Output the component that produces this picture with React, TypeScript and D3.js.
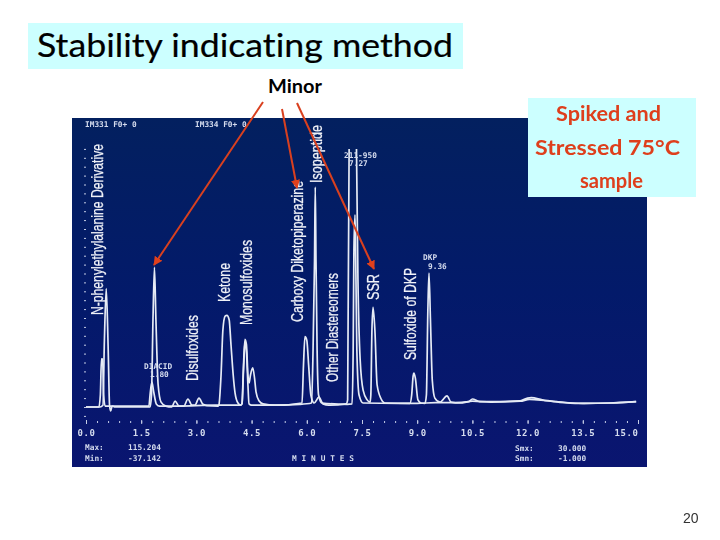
import { useEffect, useRef } from 'react';
import * as d3 from 'd3';

// [minutes, signal], null = pen goes off scale
const traceA: [number, number | null][] = [
  [0, 0], [0.38, 0], [0.46, 0.2], [0.5, 7.5], [0.55, 13.3], [0.6, 7], [0.64, 0.2], [0.67, -0.45], [0.71, 0.1], [0.79, 0],
  [1.74, 0], [1.78, 1.35], [1.82, 9.8], [1.86, 15.7], [1.9, 9.8], [1.96, 2.5], [2.04, 0.55], [2.17, 0.1], [2.33, 0],
  [2.42, 0.67], [2.53, 0.1], [2.66, 0.1], [2.77, 0.9], [2.88, 0.2], [2.96, 0.2], [3.07, 1], [3.18, 0.3], [3.29, 0.15],
  [3.59, 0.1], [3.61, 0.2], [3.67, 3.6], [3.72, 8.65], [3.78, 10.2], [3.83, 10.3], [3.89, 9.8], [3.94, 7], [4.0, 3.6],
  [4.05, 1.6], [4.13, 0.45], [4.21, 0.2], [4.24, 0.45], [4.28, 4.7], [4.32, 7.6], [4.36, 7], [4.4, 3.6], [4.43, 2.7],
  [4.47, 3.6], [4.53, 4.4], [4.58, 3.25], [4.62, 1.7], [4.7, 0.7], [4.81, 0.35], [5.14, 0.2], [5.87, 0.45], [5.91, 4.7],
  [5.95, 7.9], [6.0, 7.5], [6.05, 4.7], [6.11, 1.35], [6.2, 0.45], [6.33, 1.1], [6.44, 0.35], [6.6, 0.2], [7.07, 0.35],
  [7.11, 0.8], [7.15, 29], [7.25, null], [7.35, 29], [7.39, 14.3], [7.45, 5.3], [7.53, 1.9], [7.64, 0.8], [7.72, 0.55],
  [7.74, 1.35], [7.77, 8.65], [7.8, 11.2], [7.85, 8.65], [7.91, 2.5], [8.02, 0.9], [8.12, 0.45], [8.8, 0.4], [8.85, 1.35],
  [8.89, 3.5], [8.91, 3.8], [8.95, 3.25], [9.02, 0.8], [9.1, 0.45], [9.21, 0.4], [9.25, 1.35], [9.29, 10.9], [9.32, 15.05],
  [9.36, 9.8], [9.41, 3], [9.48, 1], [9.62, 0.55], [9.81, 1.25], [9.92, 0.55], [10.16, 0.45], [10.5, 0.65], [11, 0.55],
  [11.8, 0.65], [12.05, 0.85], [12.5, 0.7], [13, 0.5], [13.5, 0.4], [14.3, 0.45], [14.95, 0.6],
];

const traceB: [number, number | null][] = [
  [0, 0], [0.35, 0], [0.39, 1.35], [0.42, 5.4], [0.45, 5.4], [0.48, 1.35], [0.52, 0.1], [1, 0.1], [1.71, 0.1], [1.74, 1.35],
  [1.79, 2.8], [1.84, 1.7], [1.91, 0.35], [2, 0.1], [2.5, 0.1], [3.5, 0.2], [4.2, 0.2], [4.24, 0.35], [4.28, 4.1], [4.32, 7.3],
  [4.36, 6.2], [4.4, 2.5], [4.43, 0.35], [4.5, 0.2], [5, 0.2], [5.8, 0.3], [6.13, 0.45], [6.17, 6.4], [6.21, 16.5], [6.23, 24.7],
  [6.25, 16.5], [6.28, 6.4], [6.32, 1.35], [6.41, 0.45], [7.1, 0.3], [7.23, 0.35], [7.26, 6.4], [7.28, 17.6], [7.31, 21.6],
  [7.33, 16.5], [7.36, 6.4], [7.42, 1.35], [7.53, 0.45], [8.5, 0.4], [9, 0.4], [9.5, 0.5], [10, 0.5], [10.4, 0.6], [10.5, 0.9],
  [10.7, 0.6], [11.8, 0.7], [12, 1], [12.1, 1.05], [12.4, 0.8], [12.8, 0.6], [13.5, 0.4], [14.2, 0.45], [14.95, 0.6],
];

const minorTicks = d3.range(0, 51).map((i) => i * 0.3);
const majorTicks = [0, 1.5, 3, 4.5, 6, 7.5, 9, 10.5, 12, 13.5, 15];
const signalTicks = d3.range(-1, 30);

export default function App() {
  const svgRef = useRef<SVGSVGElement>(null);

  const x = d3.scaleLinear().domain([0, 15]).range([86, 638]);
  const y = d3.scaleLinear().domain([-1, 30]).range([415.9, 140]);

  useEffect(() => {
    const svg = d3.select(svgRef.current);
    const plot = svg.select('#plot');
    plot.selectAll('*').remove();

    const line = d3.line<[number, number | null]>()
      .defined((d) => d[1] !== null)
      .x((d) => x(d[0]))
      .y((d) => y(d[1] as number))
      .curve(d3.curveMonotoneX);

    for (const trace of [traceB, traceA]) {
      plot.append('path')
        .attr('d', line(trace))
        .attr('fill', 'none')
        .attr('stroke', '#e6ebf5')
        .attr('stroke-width', 1.7);
    }

    // the scope's dotted axes
    const minor = plot.append('g').attr('transform', 'translate(0,421)')
      .call(d3.axisBottom(x).tickValues(minorTicks).tickSize(2).tickFormat(() => ''));
    minor.select('.domain').remove();

    const major = plot.append('g').attr('transform', 'translate(0,420)')
      .call(d3.axisBottom(x).tickValues(majorTicks).tickSize(4).tickPadding(6).tickFormat(d3.format('.1f') as any));
    major.select('.domain').remove();
    major.selectAll('text')
      .attr('font-family', '"DejaVu Sans Mono"')
      .attr('font-weight', 'bold')
      .attr('font-size', 9)
      .attr('letter-spacing', 0.6)
      .attr('fill', '#d5dcee');
    major.selectAll('text').filter((d: any) => d === 15).attr('text-anchor', 'end');

    const left = plot.append('g').attr('transform', 'translate(86,0)')
      .call(d3.axisLeft(y).tickValues(signalTicks).tickSize(2).tickFormat(() => ''));
    left.select('.domain').remove();

    plot.selectAll('.tick line').attr('stroke', '#c5cde6').attr('stroke-width', 1);
  }, []);

  const mono = { fontFamily: '"DejaVu Sans Mono"', fontWeight: 'bold', fontSize: 7.8, fill: '#d5dcee' } as const;
  const peak = { fontFamily: '"Liberation Sans"', fontSize: 17, fill: '#f0f2f8', stroke: '#f0f2f8', strokeWidth: 0.25 } as const;
  const hand = { fontFamily: 'Lato', fontWeight: 'bold', fontSize: 20, fill: '#de3f1c', style: { fontVariantLigatures: 'none' } } as const;

  const vertical = (label: string, cx: number, bottom: number, top: number) => (
    <text
      key={label}
      transform={`translate(${cx + 6},${bottom}) rotate(-90)`}
      textLength={bottom - top}
      lengthAdjust="spacingAndGlyphs"
      {...peak}
    >
      {label}
    </text>
  );

  const arrow = (x1: number, y1: number, x2: number, y2: number) => (
    <line x1={x1} y1={y1} x2={x2} y2={y2} stroke="#d9401f" strokeWidth={2} markerEnd="url(#head)" />
  );

  return (
    <svg ref={svgRef} width={720} height={540} style={{ position: 'absolute', left: 0, top: 0 }}>
      <defs>
        <linearGradient id="screen" x1="0" y1="0" x2="0" y2="1">
          <stop offset="0" stopColor="#03205f" />
          <stop offset="0.5" stopColor="#031a6a" />
          <stop offset="1" stopColor="#0a1570" />
        </linearGradient>
        <filter id="soft" x="-5%" y="-5%" width="110%" height="110%">
          <feGaussianBlur stdDeviation="0.4" />
        </filter>
        <marker id="head" viewBox="0 -5 10 10" refX="9" refY="0" markerWidth="4.5" markerHeight="4.5" orient="auto">
          <path d="M0,-5L10,0L0,5" fill="#e0401c" />
        </marker>
      </defs>

      <rect width={720} height={540} fill="#fff" />

      <rect x={28} y={23} width={435} height={46} fill="#ccffff" />
      <text x={37} y={57} textLength={416} lengthAdjust="spacingAndGlyphs" fontFamily="Lato" fontSize={32} fill="#000" stroke="#000" strokeWidth={0.2} style={{ fontVariantLigatures: 'none' }}>
        Stability indicating method
      </text>
      <text x={268} y={93} textLength={54} lengthAdjust="spacingAndGlyphs" fontFamily="Lato" fontWeight="bold" fontSize={19} fill="#000">
        Minor
      </text>

      <rect x={72} y={118} width={575} height={349} fill="url(#screen)" />

      <g filter="url(#soft)">
        <g id="plot" />
        <g {...mono}>
          <text x={85} y={127}>IM331 F0+ 0</text>
          <text x={195} y={127}>IM334 F0+ 0</text>
          <text x={344} y={158}>211-950</text>
          <text x={349} y={166}>7.27</text>
          <text x={423} y={260}>DKP</text>
          <text x={428} y={269}>9.36</text>
          <text x={144} y={369}>DIACID</text>
          <text x={150} y={377}>1.80</text>
          <text x={85} y={450}>Max:</text>
          <text x={128} y={450}>115.204</text>
          <text x={85} y={461}>Min:</text>
          <text x={128} y={461}>-37.142</text>
          <text x={292} y={461} textLength={62}>M I N U T E S</text>
          <text x={515} y={451}>Smx:</text>
          <text x={558} y={451}>30.000</text>
          <text x={515} y={461}>Smn:</text>
          <text x={558} y={461}>-1.000</text>
        </g>
        {vertical('N-phenylethylalanine Derivative', 97, 315, 144)}
        {vertical('Disulfoxides', 192, 381, 315)}
        {vertical('Ketone', 224, 302, 263)}
        {vertical('Monosulfoxides', 246, 325, 240)}
        {vertical('Carboxy Diketopiperazine', 297, 322, 181)}
        {vertical('Isopeptide', 316, 183, 125)}
        {vertical('Other Diastereomers', 332, 382, 273)}
        {vertical('SSR', 373, 300, 274)}
        {vertical('Sulfoxide of DKP', 410, 360, 268)}
      </g>

      {arrow(263, 102, 154, 265)}
      {arrow(282, 109, 297, 188)}
      {arrow(297, 103, 374, 269)}

      <rect x={528} y={98} width={168} height={99} fill="#ccffff" />
      <text x={556} y={121} textLength={105} lengthAdjust="spacingAndGlyphs" {...hand}>Spiked and</text>
      <text x={535} y={155} textLength={145} lengthAdjust="spacingAndGlyphs" {...hand}>Stressed 75°C</text>
      <text x={580} y={188} textLength={63} lengthAdjust="spacingAndGlyphs" {...hand}>sample</text>

      <text x={683} y={523} fontFamily="Liberation Sans" fontSize={14} fill="#333">20</text>
    </svg>
  );
}
